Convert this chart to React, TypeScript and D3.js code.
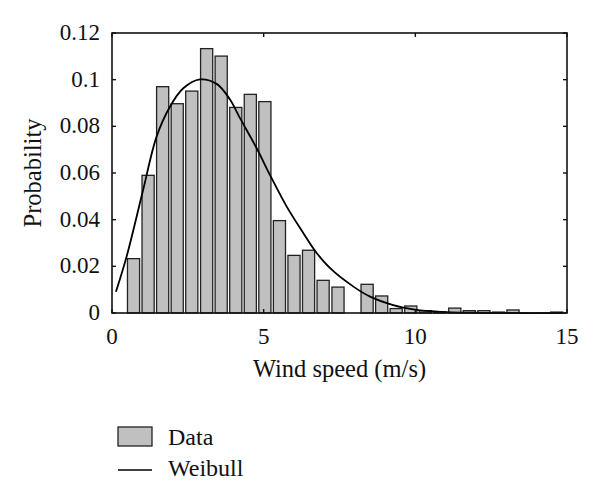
import * as d3 from 'd3';

const W = 600;
const H = 497;

// histogram bin centres (m/s) and probabilities
const binCenters = [
    0.71, 1.19, 1.67, 2.15, 2.63, 3.12, 3.6, 4.08, 4.56, 5.04,
    5.52, 6.0, 6.48, 6.96, 7.45, 7.93, 8.41, 8.89, 9.37, 9.85,
    10.33, 10.81, 11.3, 11.78, 12.26, 12.74, 13.22, 13.7, 14.18, 14.66,
];
const probabilities = [
    0.0233, 0.059, 0.097, 0.0897, 0.0951, 0.1133, 0.1101, 0.0881, 0.0937, 0.0906,
    0.0396, 0.0247, 0.0269, 0.014, 0.0111, 0, 0.0123, 0.0073, 0.0019, 0.003,
    0.001, 0.0005, 0.0021, 0.001, 0.001, 0.0004, 0.0013, 0, 0, 0.0004,
];

// fitted Weibull curve
const weibullX = [
    0.13, 0.48, 1.0, 1.47, 1.91, 2.35, 2.9, 3.45, 3.89, 4.22, 4.77, 5.21, 5.76,
    6.31, 6.69, 7.19, 7.96, 8.51, 9.27, 9.93, 10.5, 11.2, 12.0, 13.0, 14.85,
];
const weibullY = [
    0.0091, 0.0241, 0.0513, 0.0756, 0.0884, 0.0963, 0.1001, 0.0982, 0.0915, 0.0835,
    0.0706, 0.0591, 0.0456, 0.0342, 0.0267, 0.0192, 0.0113, 0.007, 0.0034, 0.0016,
    0.0008, 0.0003, 0.0001, 0, 0,
];

const xTicks = [0, 5, 10, 15];
const yTicks = [0, 0.02, 0.04, 0.06, 0.08, 0.1, 0.12];

const barWidth = 0.4;
const font = '"Liberation Serif", "Times New Roman", serif';

export default function App() {
    const margin = { left: 112, right: 33, top: 33, bottom: 184 };
    const x = d3.scaleLinear().domain([0, 15]).range([margin.left, W - margin.right]);
    const y = d3.scaleLinear().domain([0, 0.12]).range([H - margin.bottom, margin.top]);
    const [x0, x1] = x.range();
    const [y0, y1] = y.range();

    const line = d3
        .line<number>()
        .x((d) => x(d))
        .y((_, i) => y(weibullY[i]))
        .curve(d3.curveCatmullRom);

    const bw = x(barWidth) - x(0);

    return (
        <div style={{ position: 'fixed', left: 0, top: 0 }}>
            <svg width={W} height={H} style={{ display: 'block', background: '#fff' }}>
                <g>
                    {binCenters.map((c, i) =>
                        probabilities[i] > 0 ? (
                            <rect
                                key={i}
                                x={x(c) - bw / 2}
                                y={y(probabilities[i])}
                                width={bw}
                                height={y(0) - y(probabilities[i])}
                                fill="#c0c0c0"
                                stroke="#222"
                                strokeWidth={1.3}
                            />
                        ) : null
                    )}
                </g>
                <path d={line(weibullX) ?? ''} fill="none" stroke="#000" strokeWidth={1.8} />

                {/* frame with inward ticks on all sides */}
                <rect x={x0} y={y1} width={x1 - x0} height={y0 - y1} fill="none" stroke="#111" strokeWidth={1.6} />
                {xTicks.map((t) => (
                    <g key={'xt' + t}>
                        <line x1={x(t)} x2={x(t)} y1={y0} y2={y0 - 4} stroke="#111" strokeWidth={1.4} />
                        <line x1={x(t)} x2={x(t)} y1={y1} y2={y1 + 4} stroke="#111" strokeWidth={1.4} />
                        <text
                            x={x(t)}
                            y={y0 + 31}
                            textAnchor="middle"
                            fontFamily={font}
                            fontSize={23}
                            fill="#111"
                        >
                            {t}
                        </text>
                    </g>
                ))}
                {yTicks.map((t) => (
                    <g key={'yt' + t}>
                        <line x1={x0} x2={x0 + 4} y1={y(t)} y2={y(t)} stroke="#111" strokeWidth={1.4} />
                        <line x1={x1} x2={x1 - 4} y1={y(t)} y2={y(t)} stroke="#111" strokeWidth={1.4} />
                        <text
                            x={x0 - 12}
                            y={y(t) + 7}
                            textAnchor="end"
                            fontFamily={font}
                            fontSize={23}
                            fill="#111"
                        >
                            {d3.format('')(t)}
                        </text>
                    </g>
                ))}

                <text
                    x={(x0 + x1) / 2}
                    y={377}
                    textAnchor="middle"
                    fontFamily={font}
                    fontSize={24.5}
                    fill="#111"
                >
                    Wind speed (m/s)
                </text>
                <text
                    transform={`translate(41, ${(y0 + y1) / 2}) rotate(-90)`}
                    textAnchor="middle"
                    fontFamily={font}
                    fontSize={24.5}
                    fill="#111"
                >
                    Probability
                </text>

                {/* legend */}
                <rect x={118} y={427} width={34} height={19} fill="#c0c0c0" stroke="#222" strokeWidth={1.3} />
                <text x={168} y={445} fontFamily={font} fontSize={24} fill="#111">
                    Data
                </text>
                <line x1={118} x2={152} y1={470} y2={470} stroke="#000" strokeWidth={1.6} />
                <text x={168} y={476} fontFamily={font} fontSize={24} fill="#111">
                    Weibull
                </text>
            </svg>
        </div>
    );
}
